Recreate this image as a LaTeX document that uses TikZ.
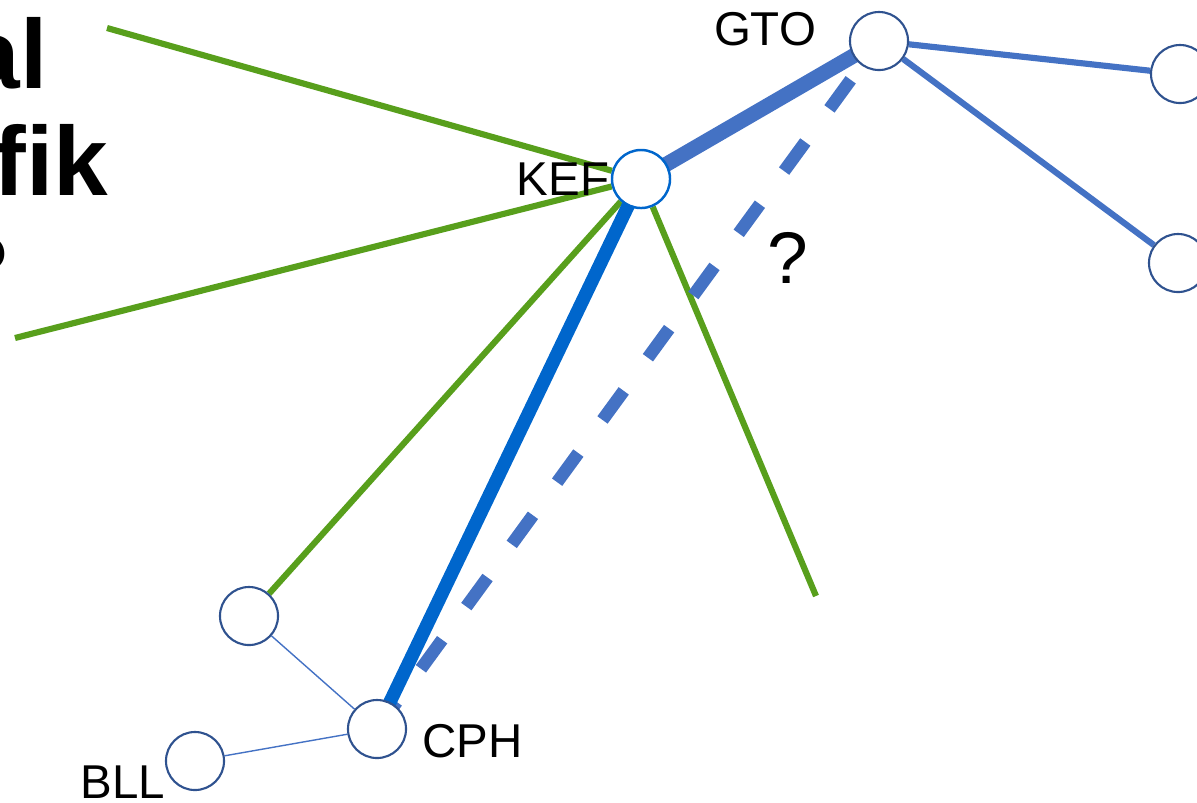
\documentclass[tikz,border=0pt]{standalone}
\usepackage{fontspec}
\setmainfont{Liberation Sans}
\usetikzlibrary{backgrounds}

\definecolor{nodeline}{RGB}{47,82,143}
\definecolor{kefline}{RGB}{0,102,204}
\definecolor{routeblue}{RGB}{68,114,196}
\definecolor{routegreen}{RGB}{88,159,28}

\tikzset{
    airport/.style={draw=nodeline, circle, fill=white, line width=0.6pt, minimum size=0.58cm, inner sep=0pt},
    code/.style={inner sep=0pt, font=\fontsize{13.5}{15}\selectfont},
    greenroute/.style={draw=routegreen, line width=1.75pt},
    blueroute/.style={draw=routeblue, line width=1.75pt},
    feeder/.style={draw=routeblue, line width=0.4pt}
}

\begin{document}
\begin{tikzpicture}[x=0.01cm, y=-0.01cm]
        \useasboundingbox (0,0) rectangle (1197,802);

        % Title text, cut at the left edge
        \node[inner sep=0pt, anchor=base east, font=\fontsize{27.9}{32}\selectfont\bfseries] (title1) at (48,88) {al};
        \node[inner sep=0pt, anchor=base east, font=\fontsize{27.9}{32}\selectfont\bfseries] (title2) at (109,195) {fik};
        \node[inner sep=0pt, anchor=base east, font=\fontsize{27.9}{32}\selectfont\bfseries] (title3) at (11,303) {?};

        % Airport codes
        \node[code, anchor=base] (gtotext) at (765,45) {GTO};
        \node[code, anchor=base west] (keftext) at (516,195) {KEF};
        \node[code, anchor=base west] (cphtext) at (422,757) {CPH};
        \node[code, anchor=base west] (blltext) at (80,798) {BLL};
        \node[inner sep=0pt, anchor=base, font=\fontsize{20.8}{24}\selectfont] (question) at (788,283) {?};

        % Airports
        \node[airport, draw=kefline, line width=0.7pt] (kef) at (641,179) {};
        \node[airport] (gto) at (879,41) {};
        \node[airport] (east1) at (1180,74) {};
        \node[airport] (east2) at (1178,263) {};
        \node[airport] (west1) at (249,616) {};
        \node[airport] (cph) at (377,729) {};
        \node[airport] (bll) at (195,761) {};

        % Open route ends
        \coordinate (gfar1) at (107,28);
        \coordinate (gfar2) at (15,338);
        \coordinate (gfar3) at (816,596);

        % Routes
        \begin{scope}[on background layer]
            \draw[greenroute] (gfar1) -- (kef);
            \draw[greenroute] (gfar2) -- (kef);
            \draw[greenroute] (west1) -- (kef);
            \draw[greenroute] (kef) -- (gfar3);
            \draw[blueroute] (gto) -- (east1);
            \draw[blueroute] (gto) -- (east2);
            \draw[feeder] (west1) -- (cph);
            \draw[feeder] (bll) -- (cph);
            \draw[draw=routeblue, line width=3.6pt, dash pattern=on 10.24pt off 11.66pt, dash phase=8.25pt] (gto.center) -- (cph.center);
            \draw[draw=kefline, line width=3.8pt] (kef.center) -- (cph.center);
            \draw[draw=routeblue, line width=4.3pt] (kef.center) -- (gto.center);
        \end{scope}
    \end{tikzpicture}
\end{document}
